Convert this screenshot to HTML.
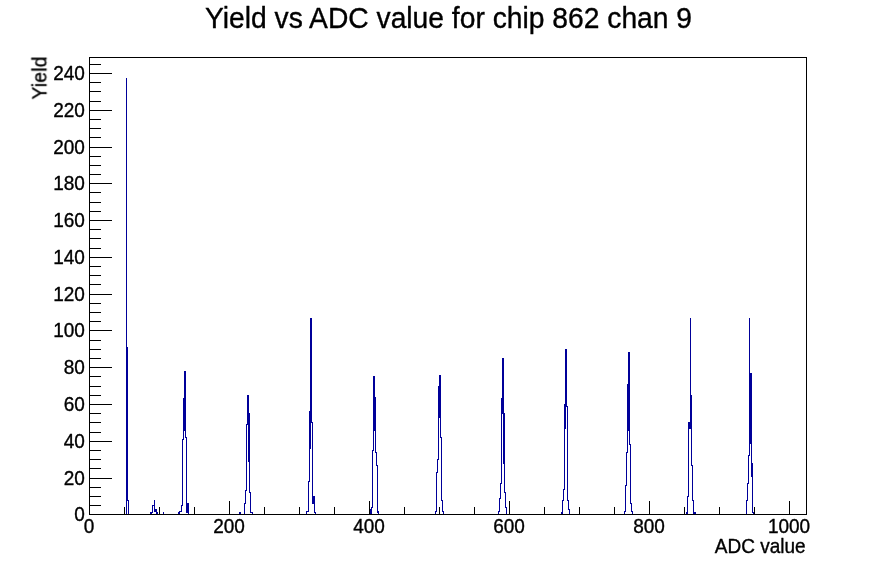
<!DOCTYPE html>
<html><head><meta charset="utf-8"><title>Yield vs ADC value for chip 862 chan 9</title>
<style>
html,body{margin:0;padding:0;background:#fff;}
body{width:896px;height:572px;overflow:hidden;}
svg{display:block;will-change:transform;}
.tx{filter:grayscale(1);}
text{font-family:"Liberation Sans",sans-serif;fill:#000;stroke:#000;stroke-width:0.35px;stroke-linejoin:round;}
.t{font-size:28.25px;}
.l{font-size:19px;}
</style></head><body>
<svg width="896" height="572" viewBox="0 0 896 572">
<rect width="896" height="572" fill="#fff"/>
<g fill="#000099" shape-rendering="crispEdges">
<path d="M126 78h1v436h-1z M127 347h1v154h-1z M128 500h1v14h-1z M150 512h1v2h-1z M151 512h1v2h-1z M152 505h1v8h-1z M153 505h1v1h-1z M154 500h1v12h-1z M155 509h1v3h-1z M156 509h1v5h-1z M157 512h1v2h-1z M163 512h1v2h-1z M178 512h1v2h-1z M179 511h1v3h-1z M180 511h1v1h-1z M181 505h1v7h-1z M182 439h1v67h-1z M183 398h1v42h-1z M184 371h1v60h-1z M185 371h1v67h-1z M186 437h1v76h-1z M187 503h1v10h-1z M188 503h1v11h-1z M239 512h1v2h-1z M240 512h1v2h-1z M244 503h1v11h-1z M245 490h1v14h-1z M246 424h1v67h-1z M247 395h1v30h-1z M248 395h1v67h-1z M249 413h1v80h-1z M250 492h1v21h-1z M251 512h1v1h-1z M252 512h1v2h-1z M306 511h1v3h-1z M307 511h1v1h-1z M308 481h1v31h-1z M309 411h1v71h-1z M310 318h1v131h-1z M311 318h1v105h-1z M312 422h1v82h-1z M313 496h1v8h-1z M314 496h1v17h-1z M315 512h1v2h-1z M370 509h1v5h-1z M371 507h1v7h-1z M372 450h1v58h-1z M373 376h1v75h-1z M374 376h1v55h-1z M375 397h1v56h-1z M376 452h1v14h-1z M377 465h1v48h-1z M378 511h1v3h-1z M435 511h1v3h-1z M436 472h1v40h-1z M437 459h1v14h-1z M438 386h1v74h-1z M439 375h1v43h-1z M440 375h1v63h-1z M441 437h1v64h-1z M442 500h1v12h-1z M443 511h1v3h-1z M498 511h1v3h-1z M499 498h1v14h-1z M500 483h1v16h-1z M501 398h1v86h-1z M502 358h1v56h-1z M503 358h1v106h-1z M504 413h1v80h-1z M505 492h1v16h-1z M506 507h1v7h-1z M561 512h1v2h-1z M562 500h1v14h-1z M563 489h1v12h-1z M564 404h1v86h-1z M565 349h1v80h-1z M566 349h1v58h-1z M567 406h1v95h-1z M568 500h1v10h-1z M569 509h1v5h-1z M624 511h1v3h-1z M625 485h1v27h-1z M626 452h1v34h-1z M627 384h1v69h-1z M628 352h1v79h-1z M629 352h1v93h-1z M630 444h1v60h-1z M631 503h1v9h-1z M632 511h1v3h-1z M686 512h1v2h-1z M687 496h1v18h-1z M688 422h1v75h-1z M689 422h1v7h-1z M690 318h1v111h-1z M691 395h1v71h-1z M692 465h1v36h-1z M693 500h1v14h-1z M694 512h1v2h-1z M695 512h1v2h-1z M746 500h1v14h-1z M747 483h1v18h-1z M748 455h1v29h-1z M749 318h1v138h-1z M750 373h1v71h-1z M751 373h1v104h-1z M752 463h1v50h-1z M753 512h1v2h-1z"/>
</g>
<path fill="#000" shape-rendering="crispEdges" d="M89 57h718v1h-718z M89 514h718v1h-718z M89 57h1v458h-1z M806 57h1v458h-1z M89 514h23v1h-23z M89 505h12v1h-12z M89 496h12v1h-12z M89 487h12v1h-12z M89 478h23v1h-23z M89 468h12v1h-12z M89 459h12v1h-12z M89 450h12v1h-12z M89 441h23v1h-23z M89 432h12v1h-12z M89 422h12v1h-12z M89 413h12v1h-12z M89 404h23v1h-23z M89 395h12v1h-12z M89 386h12v1h-12z M89 376h12v1h-12z M89 367h23v1h-23z M89 358h12v1h-12z M89 349h12v1h-12z M89 340h12v1h-12z M89 330h23v1h-23z M89 321h12v1h-12z M89 312h12v1h-12z M89 303h12v1h-12z M89 294h23v1h-23z M89 284h12v1h-12z M89 275h12v1h-12z M89 266h12v1h-12z M89 257h23v1h-23z M89 248h12v1h-12z M89 238h12v1h-12z M89 229h12v1h-12z M89 220h23v1h-23z M89 211h12v1h-12z M89 202h12v1h-12z M89 192h12v1h-12z M89 183h23v1h-23z M89 174h12v1h-12z M89 165h12v1h-12z M89 156h12v1h-12z M89 147h23v1h-23z M89 137h12v1h-12z M89 128h12v1h-12z M89 119h12v1h-12z M89 110h23v1h-23z M89 101h12v1h-12z M89 91h12v1h-12z M89 82h12v1h-12z M89 73h23v1h-23z M89 64h12v1h-12z M89 501h1v14h-1z M124 507h1v8h-1z M159 507h1v8h-1z M194 507h1v8h-1z M229 501h1v14h-1z M264 507h1v8h-1z M299 507h1v8h-1z M334 507h1v8h-1z M369 501h1v14h-1z M404 507h1v8h-1z M439 507h1v8h-1z M474 507h1v8h-1z M509 501h1v14h-1z M544 507h1v8h-1z M579 507h1v8h-1z M614 507h1v8h-1z M649 501h1v14h-1z M684 507h1v8h-1z M719 507h1v8h-1z M754 507h1v8h-1z M789 501h1v14h-1z"/>
<g class="tx">
<text class="l" transform="translate(84.9 521.3) scale(1 1.05)" text-anchor="end">0</text>
<text class="l" transform="translate(84.9 485.3) scale(1 1.05)" text-anchor="end">20</text>
<text class="l" transform="translate(84.9 448.3) scale(1 1.05)" text-anchor="end">40</text>
<text class="l" transform="translate(84.9 411.3) scale(1 1.05)" text-anchor="end">60</text>
<text class="l" transform="translate(84.9 374.3) scale(1 1.05)" text-anchor="end">80</text>
<text class="l" transform="translate(84.9 337.3) scale(1 1.05)" text-anchor="end">100</text>
<text class="l" transform="translate(84.9 301.3) scale(1 1.05)" text-anchor="end">120</text>
<text class="l" transform="translate(84.9 264.3) scale(1 1.05)" text-anchor="end">140</text>
<text class="l" transform="translate(84.9 227.3) scale(1 1.05)" text-anchor="end">160</text>
<text class="l" transform="translate(84.9 190.3) scale(1 1.05)" text-anchor="end">180</text>
<text class="l" transform="translate(84.9 154.3) scale(1 1.05)" text-anchor="end">200</text>
<text class="l" transform="translate(84.9 117.3) scale(1 1.05)" text-anchor="end">220</text>
<text class="l" transform="translate(84.9 80.3) scale(1 1.05)" text-anchor="end">240</text>
<text class="l" transform="translate(89.0 532.6) scale(1 1.05)" text-anchor="middle">0</text>
<text class="l" transform="translate(229.0 532.6) scale(1 1.05)" text-anchor="middle">200</text>
<text class="l" transform="translate(369.0 532.6) scale(1 1.05)" text-anchor="middle">400</text>
<text class="l" transform="translate(509.0 532.6) scale(1 1.05)" text-anchor="middle">600</text>
<text class="l" transform="translate(649.0 532.6) scale(1 1.05)" text-anchor="middle">800</text>
<text class="l" transform="translate(789.0 532.6) scale(1 1.05)" text-anchor="middle">1000</text>
<text class="l" transform="translate(805.6 553.3) scale(1 1.05)" text-anchor="end">ADC value</text>
<text class="l" transform="translate(46.3 56.2) rotate(-90) scale(1 1.05)" text-anchor="end" letter-spacing="0.35">Yield</text>
<text class="t" transform="translate(448.5 27.8) scale(1 1.05)" text-anchor="middle">Yield vs ADC value for chip 862 chan 9</text>
</g>
</svg>
</body></html>
